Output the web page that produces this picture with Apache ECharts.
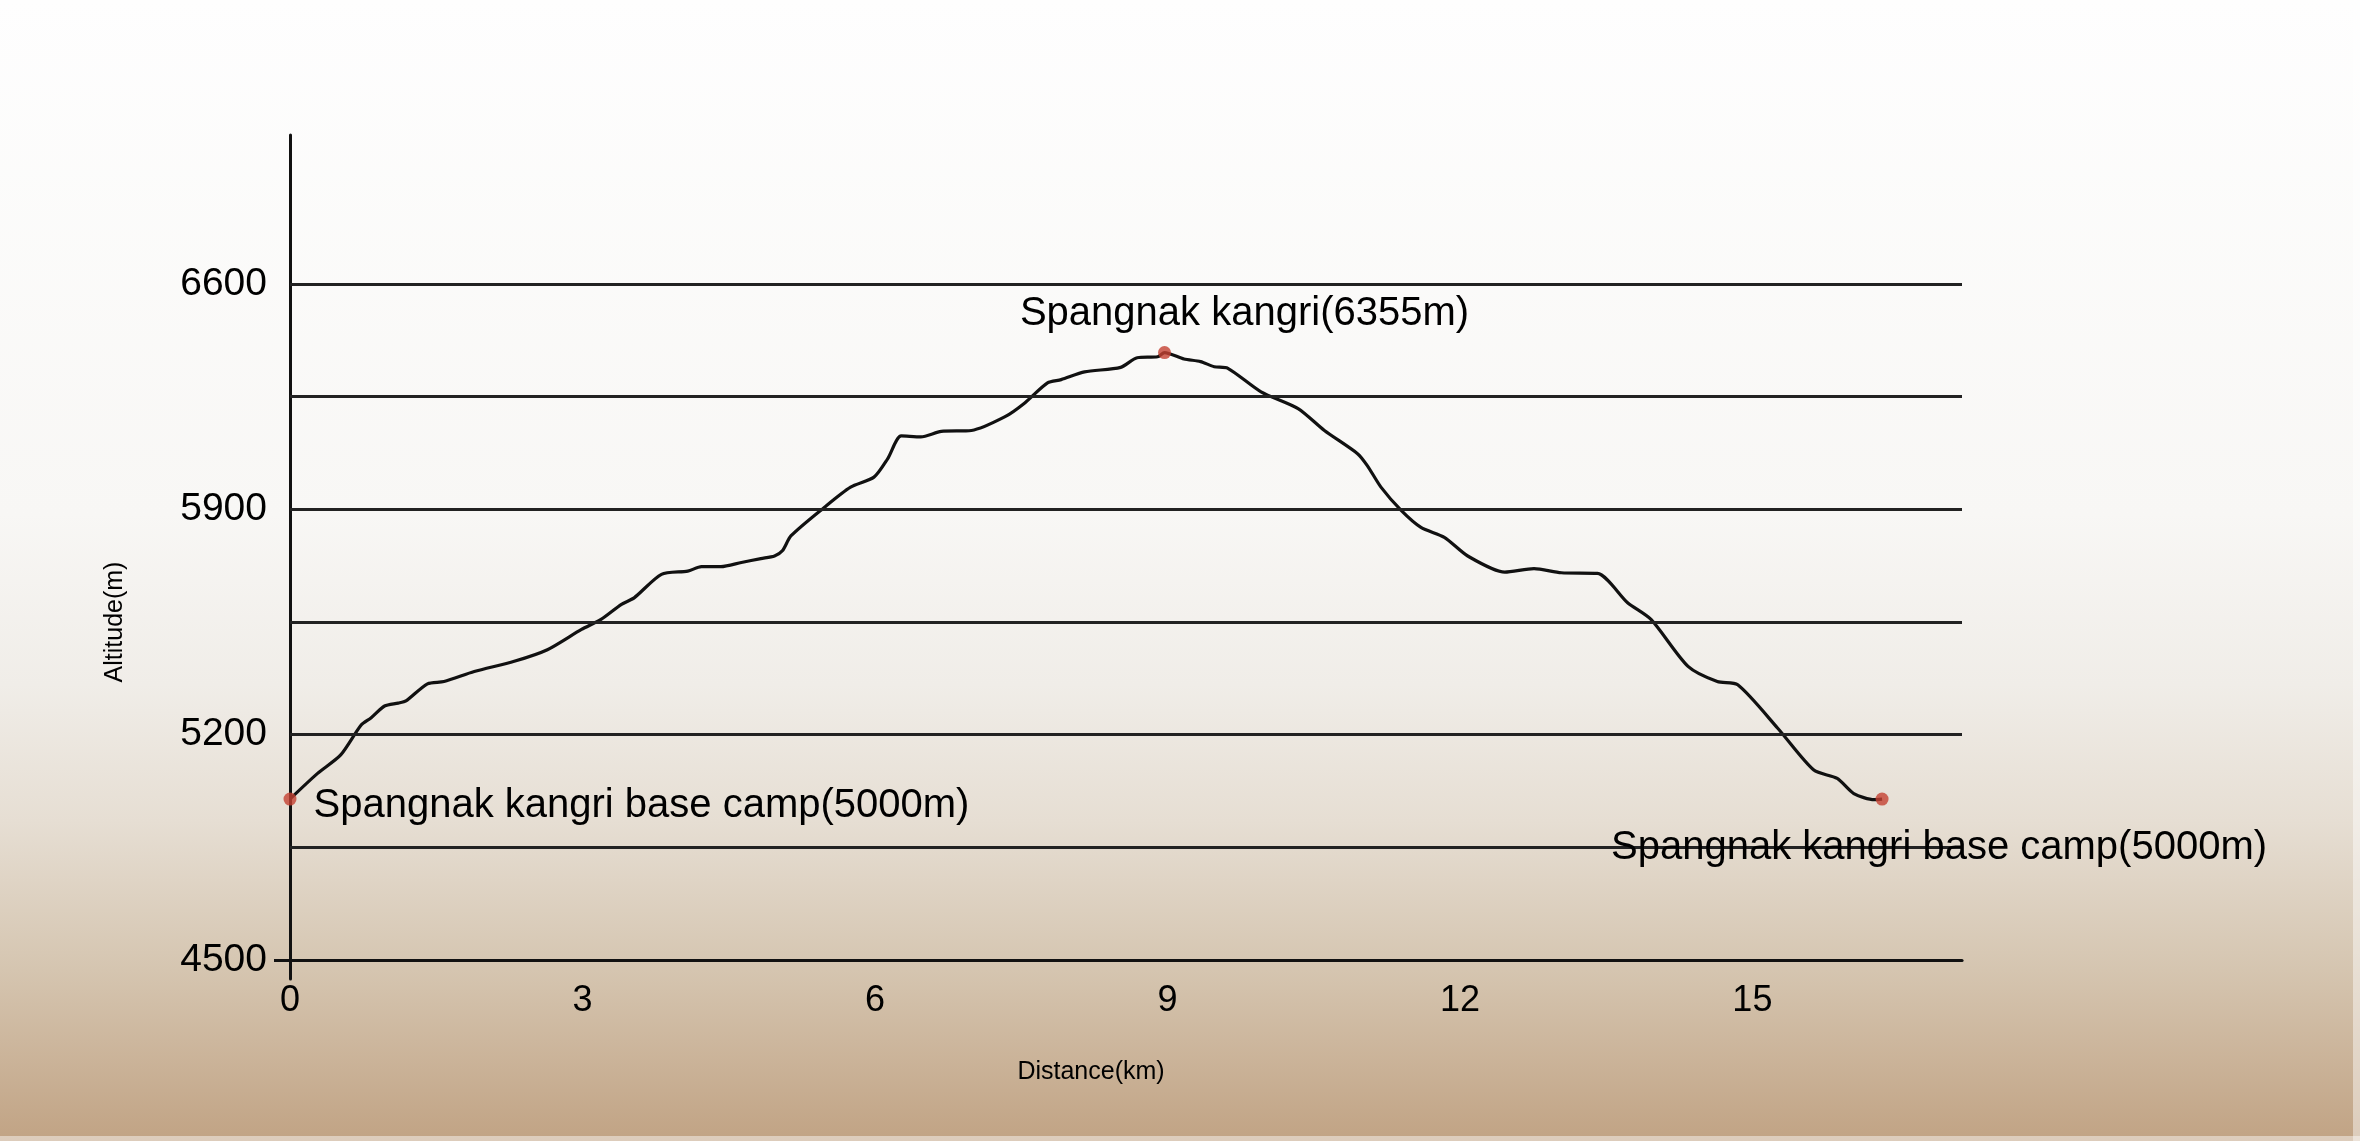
<!DOCTYPE html>
<html>
<head>
<meta charset="utf-8">
<script src="https://cdn.jsdelivr.net/npm/echarts@6/dist/echarts.min.js"></script>
<style>
html,body{margin:0;padding:0;}
#c{width:2360px;height:1141px;}
</style>
</head>
<body>
<div id="c"></div>
<script>
// Distance (km) and altitude (m) of the route profile
const distanceKm = [0, 0.28, 0.52, 0.73, 0.83, 0.97, 1.11, 1.19, 1.41, 1.58, 1.89, 2.30, 2.64, 2.99, 3.19, 3.40, 3.53, 3.81, 4.08, 4.22, 4.42, 4.63, 4.83, 4.97, 5.05, 5.14, 5.48, 5.75, 5.99, 6.13, 6.27, 6.47, 6.68, 6.99, 7.33, 7.53, 7.77, 7.91, 8.15, 8.52, 8.69, 8.90, 8.97, 9.17, 9.34, 9.48, 9.62, 9.96, 10.34, 10.61, 10.95, 11.05, 11.19, 11.40, 11.60, 11.84, 12.08, 12.46, 12.76, 13.04, 13.41, 13.72, 13.96, 14.34, 14.64, 14.85, 15.26, 15.63, 15.87, 16.04, 16.25, 16.33];
const altitudeM = [5000, 5079, 5137, 5230, 5252, 5289, 5298, 5305, 5358, 5365, 5396, 5428, 5464, 5527, 5558, 5605, 5625, 5698, 5708, 5722, 5722, 5735, 5747, 5755, 5771, 5818, 5906, 5969, 6000, 6057, 6128, 6125, 6142, 6145, 6187, 6229, 6293, 6303, 6327, 6341, 6371, 6374, 6387, 6367, 6359, 6343, 6338, 6265, 6213, 6145, 6073, 6036, 5969, 5896, 5844, 5813, 5755, 5705, 5716, 5703, 5701, 5610, 5558, 5412, 5365, 5355, 5220, 5090, 5064, 5017, 4998, 5000];

// Marked points
const markerKm = [0, 8.97, 16.33];
const markerAlt = [5000, 6387, 5000];
const markerLabels = ['Spangnak kangri base camp(5000m)', 'Spangnak kangri(6355m)', 'Spangnak kangri base camp(5000m)'];

// Axis ticks and horizontal rules
const yLabelValues = [4500, 5200, 5900, 6600];
const gridLineValues = [4850, 5200, 5550, 5900, 6250, 6600];
const yMin = 4500, yMax = 6600, yStep = 350;
const xMin = 0, xMax = 17.15, xStep = 3;
const xAxisName = 'Distance(km)';
const yAxisName = 'Altitude(m)';

const FONT = 'Liberation Sans';
const INK = '#000000';
const DOT = '#c44132';

const chart = echarts.init(document.getElementById('c'));

const labelCfg = [
  {position: 'right', distance: 17, offset: [0, 7]},
  {position: 'top', distance: 12, offset: [80, 0]},
  {position: 'bottom', distance: 22, offset: [57, 0]}
];

const markerData = markerKm.map((k, i) => ({
  value: [k, markerAlt[i]],
  label: Object.assign({
    show: true,
    formatter: markerLabels[i],
    fontFamily: FONT,
    fontSize: 40,
    color: INK,
    opacity: 1,
    textBorderWidth: 0
  }, labelCfg[i])
}));

const option = {
  animation: false,
  backgroundColor: {
    type: 'linear', x: 0, y: 0, x2: 0, y2: 1,
    colorStops: [
      {offset: 0, color: '#fefefe'},
      {offset: 0.45, color: '#f8f7f5'},
      {offset: 0.6, color: '#f0ede8'},
      {offset: 0.72, color: '#e6ded3'},
      {offset: 0.85, color: '#d5c5b0'},
      {offset: 1, color: '#c1a384'}
    ]
  },
  graphic: [
    {type: 'rect', right: 0, top: 0, shape: {width: 7, height: 1141}, style: {fill: 'rgba(255,255,255,0.45)'}, silent: true},
    {type: 'rect', left: 0, bottom: 0, shape: {width: 2360, height: 5}, style: {fill: 'rgba(255,255,255,0.45)'}, silent: true}
  ],
  grid: [
    {left: 290, right: 398, top: 284, bottom: 181, containLabel: false},
    {left: 290, right: 398, top: 135, bottom: 162, containLabel: false}
  ],
  xAxis: [
    {
      gridIndex: 0,
      type: 'value',
      min: xMin, max: xMax, interval: xStep,
      name: xAxisName,
      nameLocation: 'middle',
      nameGap: 100,
      nameTextStyle: {fontFamily: FONT, fontSize: 25, color: INK, padding: [0, 70, 0, 0]},
      axisLine: {show: true, lineStyle: {color: '#111', width: 3.2}},
      axisTick: {show: true, customValues: [0], length: 18, lineStyle: {color: '#111', width: 3}},
      axisLabel: {fontFamily: FONT, fontSize: 36, color: INK, margin: 23, showMaxLabel: false, formatter: v => String(v)},
      splitLine: {show: false}
    },
    {
      gridIndex: 1, type: 'value', min: 0, max: 1, show: false
    }
  ],
  yAxis: [
    {
      gridIndex: 0,
      type: 'value',
      min: yMin, max: yMax, interval: yStep,
      name: yAxisName,
      nameLocation: 'middle',
      nameGap: 162,
      nameTextStyle: {fontFamily: FONT, fontSize: 25, color: INK},
      axisLine: {show: false},
      axisTick: {show: true, customValues: [yMin], length: 16, lineStyle: {color: '#111', width: 3}},
      axisLabel: {customValues: yLabelValues, fontFamily: FONT, fontSize: 39, color: INK, margin: 23, formatter: v => String(v)},
      splitLine: {show: false}
    },
    {
      gridIndex: 1,
      type: 'value', min: 0, max: 1,
      axisLine: {show: true, lineStyle: {color: '#111', width: 3}},
      axisTick: {show: false},
      axisLabel: {show: false},
      splitLine: {show: false}
    }
  ],
  series: [
    {
      type: 'line',
      xAxisIndex: 0, yAxisIndex: 0,
      data: distanceKm.map((d, i) => [d, altitudeM[i]]),
      showSymbol: false,
      smooth: 0.25,
      lineStyle: {color: '#111', width: 3.2},
      z: 3,
      markLine: {
        silent: true,
        symbol: 'none',
        label: {show: false},
        lineStyle: {type: 'solid', color: '#222', width: 3.2},
        emphasis: {disabled: true},
        data: gridLineValues.map(v => ({yAxis: v}))
      }
    },
    {
      type: 'scatter',
      xAxisIndex: 0, yAxisIndex: 0,
      data: markerData,
      symbol: 'circle',
      symbolSize: 13,
      itemStyle: {color: DOT},
      z: 5
    }
  ]
};

chart.setOption(option);
</script>
</body>
</html>
